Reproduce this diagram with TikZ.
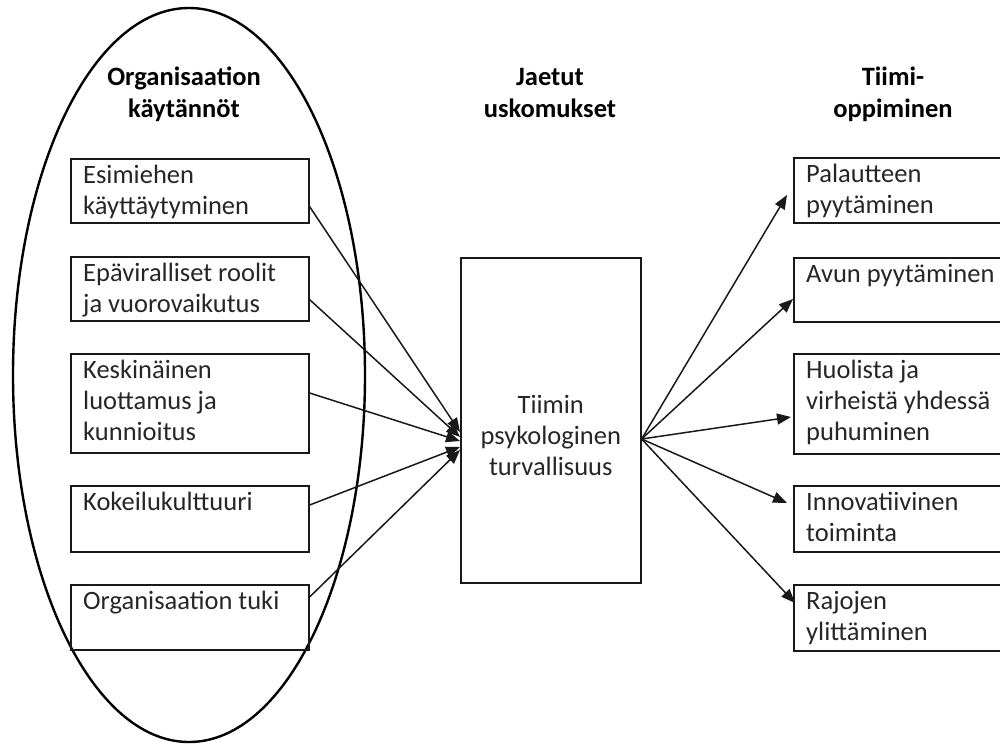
\documentclass[tikz,border=0pt]{standalone}
\usepackage{fontspec}
\setmainfont{Carlito}
\usetikzlibrary{arrows.meta}
\begin{document}
\begin{tikzpicture}[x=1pt,y=-1pt,
  box/.style={draw=black!90, line width=1.6pt, inner sep=0pt, anchor=north west},
  body/.style={font=\fontsize{26.5}{31}\selectfont, align=left, anchor=north west, inner sep=0pt, text=black!85},
  head/.style={font=\fontsize{26.5}{32}\selectfont\bfseries, align=center, anchor=north, inner sep=0pt, text=black},
  link/.style={draw=black!90, line width=1.5pt, -{Triangle[length=14pt,width=11pt]}}]
\useasboundingbox (0,0) rectangle (1000,744);
\clip (0,0) rectangle (1000,744);

% headings of the three columns
\node[head] (h1) at (184,62.6) {\strut Organisaation\\käytännöt};
\node[head] (h2) at (550,62.6) {\strut Jaetut\\uskomukset};
\node[head] (h3) at (893,62.6) {\strut Tiimi-\\oppiminen};

% organisational practices, grouped by an ellipse
\draw[line width=2.4pt] (189,375) ellipse [x radius=176, y radius=367];

\node[box, minimum width=238pt, minimum height=64pt]  (l1) at (70,158) {};
\node[box, minimum width=238pt, minimum height=64pt]  (l2) at (70,256) {};
\node[box, minimum width=238pt, minimum height=99pt]  (l3) at (70,353) {};
\node[box, minimum width=238pt, minimum height=66pt]  (l4) at (70,485) {};
\node[box, minimum width=238pt, minimum height=65pt]  (l5) at (70,584) {};
\node[body] (t1) at ([xshift=13pt,yshift=-3.3pt]l1.north west) {\strut Esimiehen\\käyttäytyminen};
\node[body] (t2) at ([xshift=13pt,yshift=-3.3pt]l2.north west) {\strut Epäviralliset roolit\\ja vuorovaikutus};
\node[body] (t3) at ([xshift=13pt,yshift=-3.3pt]l3.north west) {\strut Keskinäinen\\luottamus ja\\kunnioitus};
\node[body] (t4) at ([xshift=13pt,yshift=-3.3pt]l4.north west) {\strut Kokeilukulttuuri};
\node[body] (t5) at ([xshift=13pt,yshift=-3.3pt]l5.north west) {\strut Organisaation tuki};

% shared belief in the middle
\node[box, minimum width=180pt, minimum height=325pt] (c) at (460,257) {};
\node[font=\fontsize{26.5}{31}\selectfont, align=center, anchor=north, inner sep=0pt, text=black!85]
  (ct) at ([yshift=-135pt]c.north) {\strut Tiimin\\psykologinen\\turvallisuus};

% team learning behaviours
\node[box, minimum width=230pt, minimum height=65pt]  (r1) at (793,157) {};
\node[box, minimum width=230pt, minimum height=64pt]  (r2) at (793,257) {};
\node[box, minimum width=230pt, minimum height=100pt] (r3) at (793,353) {};
\node[box, minimum width=230pt, minimum height=66pt]  (r4) at (793,485) {};
\node[box, minimum width=230pt, minimum height=66pt]  (r5) at (793,584) {};
\node[body] (u1) at ([xshift=13pt,yshift=-3.3pt]r1.north west) {\strut Palautteen\\pyytäminen};
\node[body] (u2) at ([xshift=13pt,yshift=-3.3pt]r2.north west) {\strut Avun pyytäminen};
\node[body] (u3) at ([xshift=13pt,yshift=-3.3pt]r3.north west) {\strut Huolista ja\\virheistä yhdessä\\puhuminen};
\node[body] (u4) at ([xshift=13pt,yshift=-3.3pt]r4.north west) {\strut Innovatiivinen\\toiminta};
\node[body] (u5) at ([xshift=13pt,yshift=-3.3pt]r5.north west) {\strut Rajojen\\ylittäminen};

% arrows into the central box
\draw[link] ([yshift=17pt]l1.south east)  -- ([yshift=-175pt]c.north west);
\draw[link] ([yshift=22pt]l2.south east)  -- ([yshift=-180pt]c.north west);
\draw[link] ([yshift=-40pt]l3.north east) -- ([yshift=-184pt]c.north west);
\draw[link] ([yshift=-20pt]l4.north east) -- ([yshift=-190pt]c.north west);
\draw[link] ([yshift=-13pt]l5.north east) -- ([yshift=-193pt]c.north west);

% arrows out of the central box
\coordinate (o) at ([yshift=-182pt]c.north east);
\draw[link] (o) -- ([xshift=-6pt,yshift=-38pt]r1.north west);
\draw[link] (o) -- ([yshift=-42pt]r2.north west);
\draw[link] (o) -- ([xshift=-2pt,yshift=-64pt]r3.north west);
\draw[link] (o) -- ([xshift=-6pt,yshift=-18pt]r4.north west);
\draw[link] (o) -- ([xshift=2pt,yshift=-19pt]r5.north west);
\end{tikzpicture}
\end{document}
